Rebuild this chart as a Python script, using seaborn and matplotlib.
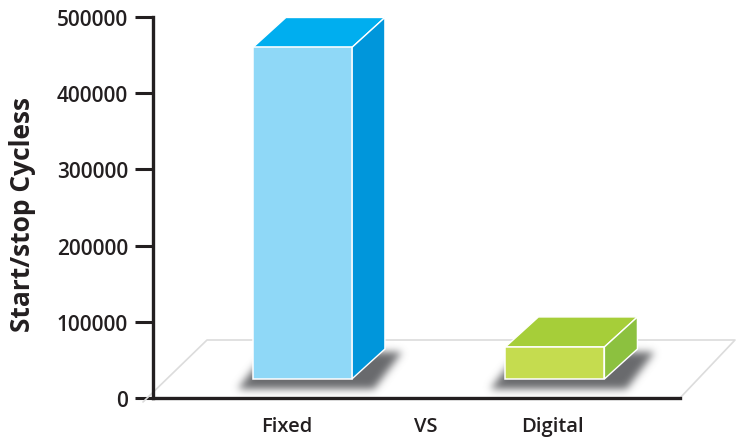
import numpy as np
import pandas as pd
import matplotlib
matplotlib.use("Agg")
import matplotlib.pyplot as plt
import matplotlib.transforms as mtransforms
from matplotlib.patches import Polygon
from matplotlib.lines import Line2D
from matplotlib.ticker import StrMethodFormatter
import seaborn as sns

# ---------------- data ----------------
categories = ["Fixed", "VS", "Digital"]
bar_categories = ["Fixed", "Digital"]
bar_values = [460000, 67000]
y_ticks = [0, 100000, 200000, 300000, 400000, 500000]
y_label = "Start/stop Cycless"

# ---------------- styles ----------------
front_colors = {"Fixed": "#8FD8F7", "Digital": "#C5DC4F"}
top_colors = {"Fixed": "#00AEEF", "Digital": "#A6CE39"}
side_colors = {"Fixed": "#0096DB", "Digital": "#8CC13F"}
label_nudge_px = [-8, 5, 6]   # small horizontal nudges of the category labels
INK = "#231F20"

sns.set_theme(style="white")
plt.rcParams["font.family"] = ["Open Sans", "DejaVu Sans"]

FIG_W, FIG_H, DPI = 747, 439, 100
fig = plt.figure(figsize=(FIG_W / DPI, FIG_H / DPI), dpi=DPI)
AX_L, AX_R, AX_T, AX_B = 153, 680, 18, 399  # pixel frame of the axes
ax = fig.add_axes([AX_L / FIG_W, (FIG_H - AX_B) / FIG_H,
                   (AX_R - AX_L) / FIG_W, (AX_B - AX_T) / FIG_H])

df = pd.DataFrame({"category": bar_categories, "value": bar_values})
sns.barplot(data=df, x="category", y="value", hue="category", order=categories,
            palette=front_colors, width=0.784, saturation=1, legend=False,
            edgecolor="white", linewidth=1.1, zorder=6, ax=ax)

# axis limits (one category step = ~126 px)
XL, XR = -1.12, 3.054
ax.set_xlim(XL, XR)
ax.set_ylim(0, 500000)
px_x = (XR - XL) / (AX_R - AX_L)     # data units per pixel (x)
px_y = 500000 / (AX_B - AX_T)        # data units per pixel (y)

# 3D extrusion parameters (pixels)
SHIFT = 8 * px_x          # bars sit a little into the floor
LIFT = 19 * px_y
DX, DY = 33 * px_x, 30 * px_y


class ShadowBlur:
    def __init__(self, sigma, color, alpha):
        self.sigma = sigma
        self.color = np.array(matplotlib.colors.to_rgb(color))
        self.alpha = alpha

    def __call__(self, im, dpi):
        pad = int(3 * self.sigma) + 2
        ny, nx, _ = im.shape
        src = np.zeros((ny + 2 * pad, nx + 2 * pad))
        src[pad:pad + ny, pad:pad + nx] = im[:, :, 3]
        r = np.arange(-pad, pad + 1)
        k = np.exp(-0.5 * (r / self.sigma) ** 2)
        k /= k.sum()
        a = np.apply_along_axis(np.convolve, 0, src, k, mode="same")
        a = np.apply_along_axis(np.convolve, 1, a, k, mode="same")
        out = np.empty((ny + 2 * pad, nx + 2 * pad, 4))
        out[..., :3] = self.color
        out[..., 3] = np.clip(a * self.alpha, 0, 1)
        return out, -pad, -pad


for p in list(ax.patches):
    w = p.get_width()
    if not np.isfinite(p.get_height()) or p.get_height() == 0:
        continue
    cx = p.get_x() + w / 2
    cat = categories[int(round(cx))]
    val = p.get_height()
    x0 = p.get_x() + SHIFT
    x1 = x0 + w
    p.set_x(x0)
    p.set_y(LIFT)
    p.set_height(val - LIFT)

    # soft shadow on the floor
    sh = Polygon([(x0 - 15 * px_x, LIFT - 10 * px_y),
                  (x1 + 22 * px_x, LIFT - 10 * px_y),
                  (x1 + 50 * px_x, LIFT + 27 * px_y),
                  (x0 + 14 * px_x, LIFT + 27 * px_y)],
                 closed=True, fc="#6D6E71", ec="none", zorder=3, clip_on=False)
    sh.set_agg_filter(ShadowBlur(4.0, "#68696C", 1.0))
    ax.add_patch(sh)

    top = Polygon([(x0, val), (x1, val), (x1 + DX, val + DY), (x0 + DX, val + DY)],
                  closed=True, fc=top_colors[cat], ec="white", lw=1.0,
                  zorder=5, clip_on=False)
    side = Polygon([(x1, LIFT), (x1 + DX, LIFT + DY), (x1 + DX, val + DY), (x1, val)],
                   closed=True, fc=side_colors[cat], ec="white", lw=1.0,
                   zorder=5, clip_on=False)
    ax.add_patch(top)
    ax.add_patch(side)
    p.set_clip_on(False)

# floor outline
floor_x = [XL - 10 * px_x, XL + 54 * px_x, XR + 55 * px_x, XR]
floor_y = [-4 * px_y, 58 * px_y, 58 * px_y, 0]
ax.add_line(Line2D(floor_x, floor_y, color="#DCDCDC", lw=1.2, zorder=1, clip_on=False))

# axes styling
for s in ["top", "right"]:
    ax.spines[s].set_visible(False)
for s in ["left", "bottom"]:
    ax.spines[s].set_color(INK)
    ax.spines[s].set_linewidth(2.4)
    ax.spines[s].set_zorder(8)

ax.set_yticks(y_ticks)
ax.yaxis.set_major_formatter(StrMethodFormatter("{x:.0f}"))
ax.tick_params(axis="y", left=True, length=13, width=2.2, color=INK, pad=5,
               labelsize=15, labelcolor=INK)
ax.set_xticks(range(len(categories)))
ax.set_xticklabels(categories)
ax.tick_params(axis="x", bottom=False, length=0, pad=13, labelsize=14.5, labelcolor=INK)
for lab in ax.get_yticklabels() + ax.get_xticklabels():
    lab.set_fontweight("semibold")
for tick, dx in zip(ax.xaxis.get_major_ticks(), label_nudge_px):
    off = mtransforms.ScaledTranslation(dx / DPI, 0, fig.dpi_scale_trans)
    tick.label1.set_transform(tick.label1.get_transform() + off)

ax.set_xlabel("")
ax.set_ylabel(y_label, fontsize=19, fontweight="bold", color=INK)
ax.yaxis.set_label_coords((36 - AX_L) / (AX_R - AX_L), (AX_B - 215) / (AX_B - AX_T))
ax.grid(False)
ax.set_facecolor("none")

fig.savefig("out.png", dpi=DPI, facecolor="white")
